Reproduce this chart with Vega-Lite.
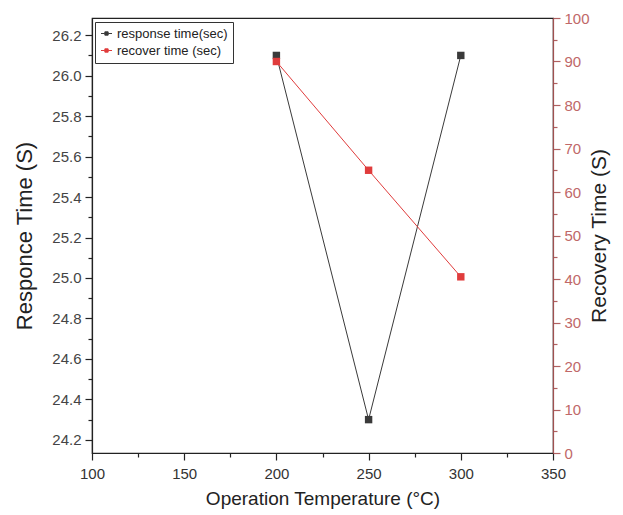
{
  "$schema": "https://vega.github.io/schema/vega-lite/v6.json",
  "autosize": "none",
  "padding": {"left": 92, "top": 18, "right": 70, "bottom": 62},
  "width": 461,
  "height": 435,
  "background": "white",
  "config": {
    "font": "Liberation Sans",
    "view": {"stroke": "#222", "strokeWidth": 1.2},
    "axis": {"grid": false, "labelFont": "Liberation Sans", "titleFont": "Liberation Sans", "titleFontWeight": "normal", "labelFlush": false, "labelOverlap": false}
  },
  "data": {
    "values": [
      {"temp": 200, "series": "response time(sec)", "value": 26.1},
      {"temp": 250, "series": "response time(sec)", "value": 24.3},
      {"temp": 300, "series": "response time(sec)", "value": 26.1},
      {"temp": 200, "series": "recover time (sec)", "value": 90},
      {"temp": 250, "series": "recover time (sec)", "value": 65},
      {"temp": 300, "series": "recover time (sec)", "value": 40.5}
    ]
  },
  "encoding": {
    "x": {
      "field": "temp", "type": "quantitative",
      "scale": {"domain": [100, 350], "nice": false, "zero": false},
      "axis": {
        "title": "Operation Temperature (°C)",
        "values": [100, 125, 150, 175, 200, 225, 250, 275, 300, 325, 350],
        "labelExpr": "datum.value % 50 === 0 ? datum.label : ''",
        "tickSize": {"condition": {"test": "datum.value % 50 === 0", "value": 7}, "value": 4},
        "tickColor": "#222", "domainColor": "#222", "domainWidth": 1.2, "tickWidth": 1.2,
        "labelFontSize": 15, "labelColor": "#333", "labelPadding": 6,
        "titleFontSize": 19, "titleColor": "#222", "titlePadding": 8
      }
    },
    "color": {
      "field": "series", "type": "nominal",
      "scale": {"domain": ["response time(sec)", "recover time (sec)"], "range": ["#3a3a3a", "#e03c3c"]},
      "legend": {
        "orient": "none", "legendX": 3, "legendY": 4, "title": null,
        "strokeColor": "#333", "padding": 5, "fillColor": "white",
        "labelFontSize": 13, "labelColor": "#222", "labelFont": "Liberation Sans",
        "symbolType": "M-1,0H-0.3M0.3,0H1M-0.3,-0.3H0.3V0.3H-0.3Z",
        "symbolSize": 121, "symbolStrokeWidth": 1, "rowPadding": 3, "labelOffset": 4,
        "encode": {"symbols": {"update": {"fill": {"scale": "color", "field": "value"}}}}
      }
    }
  },
  "layer": [
    {
      "transform": [{"filter": "datum.series === 'response time(sec)'"}],
      "mark": {"type": "line", "strokeWidth": 1, "point": {"shape": "square", "size": 55, "filled": true, "opacity": 1}},
      "encoding": {
        "y": {
          "field": "value", "type": "quantitative",
          "scale": {"domain": [24.135, 26.285], "nice": false, "zero": false},
          "axis": {
            "orient": "left",
            "title": "Responce Time (S)",
            "values": [24.2, 24.3, 24.4, 24.5, 24.6, 24.7, 24.8, 24.9, 25.0, 25.1, 25.2, 25.3, 25.4, 25.5, 25.6, 25.7, 25.8, 25.9, 26.0, 26.1, 26.2],
            "format": ".1f",
            "labelExpr": "round(datum.value*10) % 2 === 0 ? datum.label : ''",
            "tickSize": {"condition": {"test": "round(datum.value*10) % 2 === 0", "value": 7}, "value": 4},
            "tickColor": "#222", "domainColor": "#222", "domainWidth": 1.2, "tickWidth": 1.2,
            "labelFontSize": 15, "labelColor": "#444", "labelPadding": 4,
            "titleFontSize": 22, "titleColor": "#222", "titlePadding": 15
          }
        }
      }
    },
    {
      "transform": [{"filter": "datum.series === 'recover time (sec)'"}],
      "mark": {"type": "line", "strokeWidth": 1, "point": {"shape": "square", "size": 55, "filled": true, "opacity": 1}},
      "encoding": {
        "y": {
          "field": "value", "type": "quantitative",
          "scale": {"domain": [0, 100], "nice": false, "zero": false},
          "axis": {
            "orient": "right",
            "title": "Recovery Time (S)",
            "titleAngle": 270,
            "titleBaseline": "bottom",
            "values": [0, 5, 10, 15, 20, 25, 30, 35, 40, 45, 50, 55, 60, 65, 70, 75, 80, 85, 90, 95, 100],
            "labelExpr": "datum.value % 10 === 0 ? datum.label : ''",
            "tickSize": {"condition": {"test": "datum.value % 10 === 0", "value": 7}, "value": 4},
            "tickColor": "#b06060", "domainColor": "#a05050", "domainWidth": 1.2, "tickWidth": 1.2,
            "labelFontSize": 15, "labelColor": "#c06868", "labelPadding": 4,
            "titleFontSize": 21, "titleColor": "#222", "titlePadding": 20
          }
        }
      }
    }
  ],
  "resolve": {"scale": {"y": "independent"}, "axis": {"y": "independent"}}
}
